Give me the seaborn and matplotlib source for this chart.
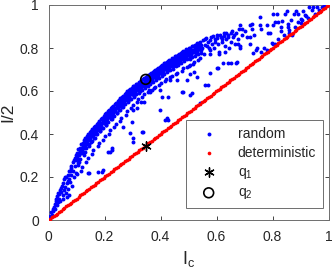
import matplotlib
matplotlib.use("Agg")
import matplotlib.pyplot as plt
import seaborn as sns

# ---------------- data ----------------
# random: dense band, I_c < 0.1
rand_a_x = [0.003, 0.006, 0.008, 0.01, 0.012, 0.015, 0.017, 0.02, 0.022, 0.024, 0.027, 0.03, 0.031, 0.034,
            0.036, 0.038, 0.04, 0.042, 0.045, 0.047, 0.05, 0.052, 0.055, 0.057, 0.06, 0.062, 0.064, 0.066,
            0.068, 0.07, 0.072, 0.075, 0.077, 0.08, 0.082, 0.084, 0.086, 0.088, 0.09, 0.093, 0.095, 0.097,
            0.043, 0.058, 0.073, 0.079, 0.091, 0.068, 0.035, 0.026]
rand_a_y = [0.008, 0.02, 0.012, 0.035, 0.025, 0.05, 0.04, 0.06, 0.075, 0.05, 0.09, 0.07, 0.11, 0.085,
            0.12, 0.1, 0.14, 0.09, 0.13, 0.16, 0.115, 0.17, 0.14, 0.19, 0.155, 0.125, 0.2, 0.17,
            0.21, 0.145, 0.19, 0.23, 0.175, 0.21, 0.25, 0.16, 0.23, 0.27, 0.2, 0.25, 0.29, 0.22,
            0.148, 0.198, 0.226, 0.243, 0.279, 0.183, 0.127, 0.098]
# random: dense band, 0.1 < I_c < 0.2
rand_b_x = [0.097, 0.098, 0.1, 0.102, 0.103, 0.105, 0.107, 0.108, 0.11, 0.112, 0.113, 0.115,
            0.117, 0.118, 0.12, 0.122, 0.123, 0.125, 0.127, 0.128, 0.13, 0.132, 0.133, 0.135,
            0.137, 0.138, 0.14, 0.142, 0.143, 0.145, 0.147, 0.148, 0.15, 0.152, 0.153, 0.155,
            0.157, 0.158, 0.16, 0.162, 0.163, 0.165, 0.167, 0.168, 0.17, 0.172, 0.173, 0.175,
            0.177, 0.178, 0.18, 0.182, 0.183, 0.185, 0.187, 0.188, 0.19, 0.192, 0.193, 0.195]
rand_b_y = [0.303, 0.288, 0.214, 0.311, 0.296, 0.257, 0.328, 0.312, 0.271, 0.335, 0.321, 0.226,
            0.352, 0.337, 0.248, 0.359, 0.345, 0.301, 0.373, 0.358, 0.318, 0.381, 0.366, 0.268,
            0.393, 0.378, 0.289, 0.401, 0.386, 0.344, 0.409, 0.394, 0.361, 0.416, 0.401, 0.305,
            0.424, 0.409, 0.327, 0.431, 0.417, 0.381, 0.439, 0.424, 0.398, 0.446, 0.431, 0.343,
            0.453, 0.438, 0.357, 0.461, 0.446, 0.412, 0.468, 0.453, 0.426, 0.476, 0.461, 0.372]
# random: dense band, 0.2 < I_c < 0.3
rand_c_x = [0.197, 0.198, 0.2, 0.202, 0.203, 0.205, 0.207, 0.208, 0.21, 0.212, 0.213, 0.215,
            0.217, 0.218, 0.22, 0.222, 0.223, 0.225, 0.227, 0.228, 0.23, 0.232, 0.233, 0.235,
            0.237, 0.238, 0.24, 0.242, 0.243, 0.245, 0.247, 0.248, 0.25, 0.252, 0.253, 0.255,
            0.257, 0.258, 0.26, 0.262, 0.263, 0.265, 0.267, 0.268, 0.27, 0.272, 0.273, 0.275,
            0.277, 0.278, 0.28, 0.282, 0.283, 0.285, 0.287, 0.288, 0.29, 0.292, 0.293, 0.295]
rand_c_y = [0.483, 0.468, 0.389, 0.491, 0.476, 0.441, 0.498, 0.483, 0.455, 0.506, 0.491, 0.401,
            0.512, 0.497, 0.418, 0.52, 0.505, 0.47, 0.524, 0.509, 0.483, 0.532, 0.517, 0.432,
            0.538, 0.523, 0.447, 0.546, 0.531, 0.497, 0.552, 0.537, 0.511, 0.559, 0.544, 0.462,
            0.566, 0.551, 0.476, 0.573, 0.558, 0.527, 0.578, 0.563, 0.539, 0.586, 0.571, 0.49,
            0.592, 0.577, 0.506, 0.599, 0.585, 0.553, 0.603, 0.589, 0.565, 0.611, 0.596, 0.519]
# random: dense band, 0.3 < I_c < 0.4
rand_d_x = [0.297, 0.298, 0.3, 0.302, 0.303, 0.305, 0.307, 0.308, 0.31, 0.312, 0.313, 0.315,
            0.317, 0.318, 0.32, 0.322, 0.323, 0.325, 0.327, 0.328, 0.33, 0.332, 0.333, 0.335,
            0.337, 0.338, 0.34, 0.342, 0.343, 0.345, 0.347, 0.348, 0.35, 0.352, 0.353, 0.355,
            0.357, 0.358, 0.36, 0.362, 0.363, 0.365, 0.367, 0.368, 0.37, 0.372, 0.373, 0.375,
            0.377, 0.378, 0.38, 0.382, 0.383, 0.385, 0.387, 0.388, 0.39, 0.392, 0.393, 0.395]
rand_d_y = [0.614, 0.599, 0.533, 0.621, 0.607, 0.579, 0.624, 0.609, 0.59, 0.631, 0.617, 0.548,
            0.634, 0.619, 0.562, 0.641, 0.627, 0.601, 0.644, 0.629, 0.611, 0.651, 0.637, 0.574,
            0.654, 0.639, 0.585, 0.661, 0.647, 0.622, 0.663, 0.648, 0.631, 0.671, 0.656, 0.594,
            0.673, 0.658, 0.604, 0.681, 0.666, 0.642, 0.683, 0.668, 0.651, 0.69, 0.676, 0.613,
            0.693, 0.678, 0.62, 0.7, 0.686, 0.659, 0.702, 0.687, 0.668, 0.709, 0.695, 0.627]
# random: dense band, 0.4 < I_c < 0.55
rand_e_x = [0.397, 0.398, 0.4, 0.402, 0.403, 0.405, 0.407, 0.408, 0.41, 0.412, 0.413, 0.415,
            0.417, 0.418, 0.42, 0.422, 0.423, 0.425, 0.427, 0.428, 0.43, 0.432, 0.433, 0.435,
            0.437, 0.438, 0.44, 0.442, 0.443, 0.445, 0.447, 0.448, 0.45, 0.452, 0.453, 0.455,
            0.457, 0.458, 0.46, 0.462, 0.463, 0.465, 0.467, 0.468, 0.47, 0.472, 0.473, 0.475,
            0.477, 0.478, 0.48, 0.482, 0.483, 0.485, 0.487, 0.488, 0.49, 0.492, 0.493, 0.495,
            0.497, 0.498, 0.5, 0.502, 0.503, 0.505, 0.507, 0.508, 0.51, 0.512, 0.513, 0.515,
            0.517, 0.518, 0.52, 0.522, 0.523, 0.525, 0.527, 0.528, 0.53, 0.532, 0.533, 0.535,
            0.537, 0.538, 0.54, 0.542, 0.543, 0.545]
rand_e_y = [0.711, 0.696, 0.636, 0.718, 0.704, 0.677, 0.721, 0.706, 0.688, 0.728, 0.714, 0.645,
            0.73, 0.715, 0.654, 0.737, 0.723, 0.697, 0.738, 0.723, 0.705, 0.745, 0.731, 0.663,
            0.746, 0.731, 0.67, 0.753, 0.739, 0.714, 0.754, 0.739, 0.721, 0.761, 0.747, 0.679,
            0.762, 0.747, 0.686, 0.769, 0.755, 0.728, 0.771, 0.756, 0.738, 0.778, 0.764, 0.695,
            0.78, 0.765, 0.705, 0.787, 0.773, 0.748, 0.787, 0.772, 0.753, 0.794, 0.78, 0.71,
            0.793, 0.778, 0.716, 0.8, 0.786, 0.758, 0.8, 0.785, 0.767, 0.807, 0.793, 0.726,
            0.807, 0.792, 0.735, 0.814, 0.8, 0.775, 0.814, 0.799, 0.781, 0.821, 0.807, 0.745,
            0.821, 0.806, 0.754, 0.828, 0.814, 0.789]
# random: extra points filling the middle of the band, 0.1 < I_c < 0.55
rand_fill_x = [0.099, 0.104, 0.107, 0.109, 0.114, 0.117, 0.119, 0.124, 0.127, 0.129, 0.134, 0.137,
               0.139, 0.144, 0.147, 0.149, 0.154, 0.157, 0.159, 0.164, 0.167, 0.169, 0.174, 0.177,
               0.179, 0.184, 0.187, 0.189, 0.194, 0.197, 0.199, 0.204, 0.207, 0.209, 0.214, 0.217,
               0.219, 0.224, 0.227, 0.229, 0.234, 0.237, 0.239, 0.244, 0.247, 0.249, 0.254, 0.257,
               0.259, 0.264, 0.267, 0.269, 0.274, 0.277, 0.279, 0.284, 0.287, 0.289, 0.294, 0.297,
               0.299, 0.304, 0.307, 0.309, 0.314, 0.317, 0.319, 0.324, 0.327, 0.329, 0.334, 0.337,
               0.339, 0.344, 0.347, 0.349, 0.354, 0.357, 0.359, 0.364, 0.367, 0.369, 0.374, 0.377,
               0.379, 0.384, 0.387, 0.389, 0.394, 0.397, 0.399, 0.404, 0.407, 0.409, 0.414, 0.417,
               0.419, 0.424, 0.427, 0.429, 0.434, 0.437, 0.439, 0.444, 0.447, 0.449, 0.454, 0.457,
               0.459, 0.464, 0.467, 0.469, 0.474, 0.477, 0.479, 0.484, 0.487, 0.489, 0.494, 0.497,
               0.499, 0.504, 0.507, 0.509, 0.514, 0.517, 0.519, 0.524, 0.527, 0.529, 0.534, 0.537,
               0.539, 0.544, 0.547]
rand_fill_y = [0.277, 0.265, 0.284, 0.301, 0.286, 0.31, 0.325, 0.31, 0.333, 0.346, 0.334, 0.355,
               0.367, 0.352, 0.374, 0.382, 0.369, 0.389, 0.397, 0.383, 0.405, 0.412, 0.398, 0.419,
               0.427, 0.414, 0.434, 0.442, 0.427, 0.45, 0.457, 0.443, 0.464, 0.472, 0.458, 0.48,
               0.486, 0.471, 0.493, 0.498, 0.485, 0.505, 0.512, 0.497, 0.52, 0.525, 0.512, 0.532,
               0.539, 0.524, 0.547, 0.552, 0.539, 0.559, 0.565, 0.55, 0.573, 0.577, 0.564, 0.584,
               0.587, 0.572, 0.595, 0.597, 0.584, 0.604, 0.607, 0.592, 0.615, 0.617, 0.604, 0.624,
               0.627, 0.612, 0.635, 0.637, 0.624, 0.644, 0.647, 0.632, 0.655, 0.656, 0.643, 0.663,
               0.666, 0.651, 0.674, 0.675, 0.662, 0.682, 0.684, 0.669, 0.692, 0.694, 0.681, 0.701,
               0.703, 0.688, 0.711, 0.711, 0.698, 0.718, 0.719, 0.704, 0.727, 0.727, 0.714, 0.734,
               0.735, 0.72, 0.743, 0.744, 0.731, 0.751, 0.753, 0.738, 0.761, 0.76, 0.747, 0.767,
               0.766, 0.751, 0.774, 0.773, 0.76, 0.78, 0.78, 0.765, 0.788, 0.787, 0.774, 0.794,
               0.794, 0.779, 0.802]
# random: band, 0.55 < I_c < 0.7
rand_f_x = [0.555, 0.56, 0.565, 0.57, 0.575, 0.58, 0.585, 0.59, 0.595, 0.6, 0.605, 0.61, 0.615, 0.62,
            0.625, 0.63, 0.635, 0.64, 0.645, 0.65, 0.655, 0.66, 0.665, 0.67, 0.675, 0.68, 0.685, 0.69,
            0.552, 0.558, 0.563, 0.572, 0.578, 0.588, 0.593, 0.603, 0.612, 0.618, 0.627, 0.633, 0.642,
            0.652, 0.662]
rand_f_y = [0.77, 0.84, 0.81, 0.83, 0.79, 0.85, 0.82, 0.8, 0.84, 0.86, 0.82, 0.78, 0.85, 0.83,
            0.87, 0.81, 0.84, 0.86, 0.8, 0.83, 0.88, 0.85, 0.82, 0.87, 0.84, 0.89, 0.81, 0.86,
            0.835, 0.815, 0.845, 0.8, 0.838, 0.855, 0.828, 0.846, 0.862, 0.84, 0.855, 0.868, 0.85,
            0.872, 0.86]
# random: upper right, I_c > 0.67
rand_g_x = [0.684, 0.69, 0.677, 0.684, 0.672, 0.71, 0.72, 0.727, 0.727, 0.755, 0.78, 0.755, 0.785, 0.79,
            0.8, 0.815, 0.81, 0.82, 0.83, 0.83, 0.845, 0.85, 0.855, 0.855, 0.84, 0.86, 0.87, 0.875,
            0.885, 0.89, 0.89, 0.9, 0.905, 0.916, 0.92, 0.93, 0.945, 0.96, 0.975, 0.985, 0.74, 0.745,
            0.76, 0.77, 0.78, 0.8, 0.81, 0.72, 0.73, 0.797, 0.82, 0.86, 0.88, 0.9, 0.925, 0.95,
            0.965, 0.735, 0.7, 0.72, 0.76, 0.8, 0.835, 0.865, 0.91, 0.94]
rand_g_y = [0.905, 0.89, 0.82, 0.8, 0.736, 0.85, 0.85, 0.89, 0.91, 0.907, 0.907, 0.946, 0.87, 0.87,
            0.96, 0.96, 0.92, 0.92, 0.88, 0.9, 0.96, 0.97, 0.9, 0.91, 0.86, 0.87, 0.86, 0.96,
            0.97, 0.96, 0.92, 0.935, 0.93, 0.955, 0.95, 0.99, 0.99, 0.99, 0.993, 0.995, 0.79, 0.8,
            0.78, 0.8, 0.79, 0.82, 0.82, 0.82, 0.776, 0.822, 0.84, 0.885, 0.9, 0.915, 0.94, 0.96,
            0.975, 0.86, 0.88, 0.905, 0.89, 0.905, 0.925, 0.93, 0.97, 0.975]
# random: scattered points between the band and the diagonal
rand_h_x = [0.065, 0.074, 0.053, 0.142, 0.146, 0.178, 0.196, 0.19, 0.214, 0.22, 0.226, 0.226, 0.267, 0.291,
            0.297, 0.303, 0.303, 0.303, 0.315, 0.333, 0.339, 0.33, 0.34, 0.3625, 0.369, 0.398, 0.404, 0.398,
            0.416, 0.427, 0.422, 0.428, 0.434, 0.458, 0.476, 0.48, 0.505, 0.511, 0.494, 0.505, 0.53, 0.54,
            0.56, 0.57, 0.577, 0.6, 0.605, 0.624, 0.65, 0.64, 0.67, 0.505, 0.52, 0.577, 0.61, 0.63]
rand_h_y = [0.108, 0.116, 0.1, 0.217, 0.217, 0.225, 0.233, 0.225, 0.318, 0.318, 0.326, 0.333, 0.434, 0.403,
            0.457, 0.38, 0.364, 0.512, 0.52, 0.41, 0.41, 0.55, 0.55, 0.597, 0.605, 0.605, 0.573, 0.512,
            0.465, 0.465, 0.473, 0.573, 0.65, 0.65, 0.597, 0.597, 0.58, 0.589, 0.65, 0.68, 0.667, 0.544,
            0.628, 0.628, 0.682, 0.707, 0.707, 0.729, 0.729, 0.73, 0.73, 0.72, 0.69, 0.77, 0.77, 0.78]

# deterministic: dots along the diagonal, I/2 equal to I_c
det_x = [0, 0.006, 0.012, 0.019, 0.025, 0.03, 0.038, 0.044, 0.05, 0.057, 0.063, 0.07, 0.076, 0.081, 0.089,
         0.095, 0.1, 0.108, 0.114, 0.12, 0.127, 0.133, 0.139, 0.146, 0.152, 0.158, 0.165, 0.171, 0.178,
         0.184, 0.19, 0.197, 0.203, 0.209, 0.216, 0.222, 0.229, 0.235, 0.241, 0.248, 0.254, 0.26, 0.267,
         0.273, 0.28, 0.286, 0.292, 0.299, 0.305, 0.311, 0.318, 0.324, 0.331, 0.337, 0.343, 0.35, 0.356,
         0.362, 0.369, 0.375, 0.382, 0.388, 0.394, 0.401, 0.407, 0.413, 0.42, 0.426, 0.433, 0.439, 0.445,
         0.452, 0.458, 0.464, 0.471, 0.477, 0.484, 0.49, 0.496, 0.503, 0.509, 0.515, 0.522, 0.528, 0.535,
         0.541, 0.547, 0.554, 0.56, 0.566, 0.573, 0.579, 0.586, 0.592, 0.598, 0.605, 0.611, 0.617, 0.624,
         0.63, 0.637, 0.643, 0.649, 0.656, 0.662, 0.668, 0.675, 0.681, 0.688, 0.694, 0.7, 0.707, 0.713,
         0.719, 0.726, 0.732, 0.739, 0.745, 0.751, 0.758, 0.764, 0.77, 0.777, 0.783, 0.79, 0.796, 0.802,
         0.809, 0.815, 0.821, 0.828, 0.834, 0.841, 0.847, 0.853, 0.86, 0.866, 0.872, 0.879, 0.885, 0.892,
         0.898, 0.904, 0.911, 0.917, 0.923, 0.93, 0.936, 0.943, 0.949, 0.955, 0.962, 0.968, 0.974, 0.981,
         0.987, 0.994, 1.0]
det_y = list(det_x)

q1_x, q1_y = [0.347], [0.346]
q2_x, q2_y = [0.347], [0.654]

ticks = [0, 0.2, 0.4, 0.6, 0.8, 1]
tick_labels = ["0", "0.2", "0.4", "0.6", "0.8", "1"]

# ---------------- style ----------------
sns.set_style("ticks")
plt.rcParams["font.family"] = ["Liberation Sans", "DejaVu Sans"]
plt.rcParams["mathtext.fontset"] = "custom"
plt.rcParams["mathtext.rm"] = "Liberation Sans"
plt.rcParams["mathtext.it"] = "Liberation Sans:italic"

axc = "#262626"
fig = plt.figure(figsize=(3.32, 2.74), dpi=100)
ax = fig.add_axes([48.5 / 332, 54 / 274, 280 / 332, 215 / 274])

rand_x = (rand_a_x + rand_b_x + rand_c_x + rand_d_x + rand_e_x + rand_fill_x
          + rand_f_x + rand_g_x + rand_h_x)
rand_y = (rand_a_y + rand_b_y + rand_c_y + rand_d_y + rand_e_y + rand_fill_y
          + rand_f_y + rand_g_y + rand_h_y)

sns.scatterplot(x=rand_x, y=rand_y, color="#0000ff", s=8, linewidth=0, label="random", ax=ax, zorder=3)
sns.scatterplot(x=det_x, y=det_y, color="#ff0000", s=7, linewidth=0, label="deterministic", ax=ax, zorder=4)
sns.scatterplot(x=q1_x, y=q1_y, marker=(6, 2, 0), s=45, color="black", edgecolor="black",
                linewidth=1.0, label="q$_1$", ax=ax, zorder=5)
sns.scatterplot(x=q2_x, y=q2_y, marker="o", s=50, facecolor="none", edgecolor="black",
                linewidth=1.2, label="q$_2$", ax=ax, zorder=5)

ax.set_xlim(0, 1)
ax.set_ylim(0, 1)
ax.set_xticks(ticks)
ax.set_xticklabels(tick_labels)
ax.set_yticks(ticks)
ax.set_yticklabels(tick_labels)
ax.tick_params(direction="in", length=3, width=0.6, colors=axc, labelsize=10, pad=7,
               top=True, right=True)
for sp in ax.spines.values():
    sp.set_visible(True)
    sp.set_color("#6e6e6e")
    sp.set_linewidth(0.7)

ax.set_xlabel("I$_{\\rm c}$", fontsize=13, color=axc, labelpad=4)
ax.set_ylabel("I/2", fontsize=12.5, color=axc)
ax.yaxis.set_label_coords(-0.118, 0.5)

leg = ax.legend(loc="lower right", bbox_to_anchor=(0.981, 0.054), fontsize=10, frameon=True,
                fancybox=False, framealpha=1, edgecolor="#6e6e6e", borderpad=0.5,
                labelspacing=0.35, handletextpad=1.0, handlelength=2.2, borderaxespad=0)
leg.get_frame().set_linewidth(0.7)
for t in leg.get_texts():
    t.set_color(axc)

fig.savefig("out.png", dpi=100)
